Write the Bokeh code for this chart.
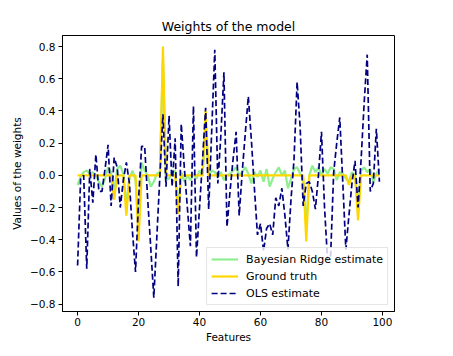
from bokeh.plotting import figure
from bokeh.models import Range1d, FixedTicker, CustomJSTickFormatter
from bokeh.embed import file_html
from bokeh.resources import INLINE

features = list(range(100))

ols_estimate = [
    -0.56, -0.02, 0.00, -0.58, 0.04, -0.17, 0.13, -0.10, -0.10, 0.04,
    0.19, -0.19, 0.11, 0.05, -0.20, -0.03, 0.08, -0.05, -0.35, -0.60,
    -0.15, 0.18, 0.18, -0.15, -0.45, -0.76, -0.38, 0.00, 0.38, -0.07,
    0.37, -0.07, 0.23, -0.69, 0.32, 0.05, -0.20, -0.44, 0.43, -0.51,
    -0.20, 0.10, 0.42, -0.21, 0.28, 0.78, -0.05, 0.25, 0.64, -0.32,
    -0.10, 0.10, 0.27, -0.25, 0.02, 0.26, 0.49, 0.22, -0.08, -0.37,
    -0.30, -0.47, -0.33, -0.30, -0.37, -0.14, -0.19, -0.08, -0.25, -0.46,
    -0.15, 0.10, 0.58, 0.30, -0.19, -0.05, -0.04, -0.10, -0.21, 0.00,
    0.27, -0.20, -0.53, -0.50, 0.02, 0.20, 0.36, -0.05, -0.46, -0.25,
    -0.05, 0.09, -0.20, 0.10, 0.45, 0.75, -0.10, -0.05, 0.29, -0.04,
]

ground_truth = [0.0] * 100
truth_index = [12, 16, 20, 28, 33, 42, 75, 89, 92]
truth_value = [-0.15, -0.25, -0.41, 0.80, -0.24, 0.40, -0.41, -0.06, -0.28]
for i, v in zip(truth_index, truth_value):
    ground_truth[i] = v

bayes_ridge = [
    -0.06, -0.01, 0.02, 0.03, 0.01, 0.02, 0.00, -0.04, -0.07, -0.02,
    0.05, 0.02, -0.10, 0.04, 0.06, 0.01, -0.18, -0.02, 0.03, -0.03,
    -0.33, 0.08, 0.03, 0.00, -0.07, -0.04, 0.01, 0.02, 0.72, -0.03,
    -0.02, 0.02, 0.03, -0.20, 0.02, -0.04, 0.00, -0.03, 0.01, -0.02,
    0.03, 0.00, 0.33, 0.00, 0.03, 0.02, -0.01, 0.02, -0.03, 0.00,
    0.01, 0.03, 0.05, 0.00, 0.02, 0.05, 0.01, -0.05, 0.02, -0.01,
    0.03, -0.04, 0.04, -0.07, -0.02, 0.02, 0.05, 0.00, 0.03, -0.08,
    -0.02, 0.04, 0.05, 0.01, -0.02, -0.32, 0.00, 0.06, 0.02, 0.05,
    0.00, 0.04, 0.01, 0.05, 0.04, -0.03, 0.02, 0.01, -0.02, -0.04,
    0.02, 0.00, -0.20, 0.03, 0.05, 0.02, 0.04, -0.04, 0.01, 0.04,
]

y_ticks = [-0.8, -0.6, -0.4, -0.2, 0.0, 0.2, 0.4, 0.6, 0.8]
x_ticks = [0, 20, 40, 60, 80, 100]

FONT = "DejaVu Sans"

p = figure(width=437, height=352, output_backend="svg", toolbar_location=None,
           x_range=Range1d(-4.95, 103.95), y_range=Range1d(-0.846, 0.869),
           title="Weights of the model",
           min_border_left=62, min_border_right=43, min_border_top=35, min_border_bottom=41)

p.line(features, bayes_ridge, line_color="lightgreen", line_width=2.2,
       legend_label="Bayesian Ridge estimate")
p.line(features, ground_truth, line_color="gold", line_width=2.2,
       legend_label="Ground truth")
p.line(features, ols_estimate, line_color="navy", line_width=1.7, line_dash="6 3",
       legend_label="OLS estimate")

p.title.align = "center"
p.title.text_font = FONT
p.title.text_font_size = "12.5px"
p.title.text_font_style = "normal"
p.title.text_color = "black"
p.title.standoff = 3

p.xgrid.visible = False
p.ygrid.visible = False
p.outline_line_color = "black"
p.outline_line_width = 1
p.outline_line_alpha = 1

for ax in (p.xaxis[0], p.yaxis[0]):
    ax.axis_line_color = "black"
    ax.major_tick_line_color = "black"
    ax.major_tick_out = 4
    ax.major_tick_in = 0
    ax.minor_tick_line_color = None
    ax.major_label_text_font = FONT
    ax.major_label_text_font_size = "10.5px"
    ax.major_label_text_color = "black"
    ax.axis_label_text_font = FONT
    ax.axis_label_text_font_size = "10.5px"
    ax.axis_label_text_font_style = "normal"
    ax.axis_label_text_color = "black"

p.xaxis.ticker = FixedTicker(ticks=x_ticks)
p.yaxis.ticker = FixedTicker(ticks=y_ticks)
p.xaxis.formatter = CustomJSTickFormatter(code="return (tick < 0 ? '\u2212' : '') + Math.abs(tick).toFixed(0);")
p.yaxis.formatter = CustomJSTickFormatter(code="return (tick < -1e-9 ? '\u2212' : '') + Math.abs(tick).toFixed(1);")
p.xaxis.axis_label = "Features"
p.yaxis.axis_label = "Values of the weights"
p.xaxis.major_label_standoff = 2
p.xaxis.axis_label_standoff = 2
p.yaxis.major_label_standoff = 3
p.yaxis.axis_label_standoff = 4

p.legend.location = "bottom_right"
p.legend.margin = 6
p.legend.padding = 4
p.legend.spacing = 3
p.legend.label_height = 14
p.legend.glyph_height = 14
p.legend.glyph_width = 27
p.legend.label_standoff = 8
p.legend.label_text_font = FONT
p.legend.label_text_font_size = "11px"
p.legend.label_text_color = "black"
p.legend.border_line_color = "#cccccc"
p.legend.border_line_width = 1
p.legend.background_fill_alpha = 0.8

open("out.html", "w").write(file_html(p, INLINE))
